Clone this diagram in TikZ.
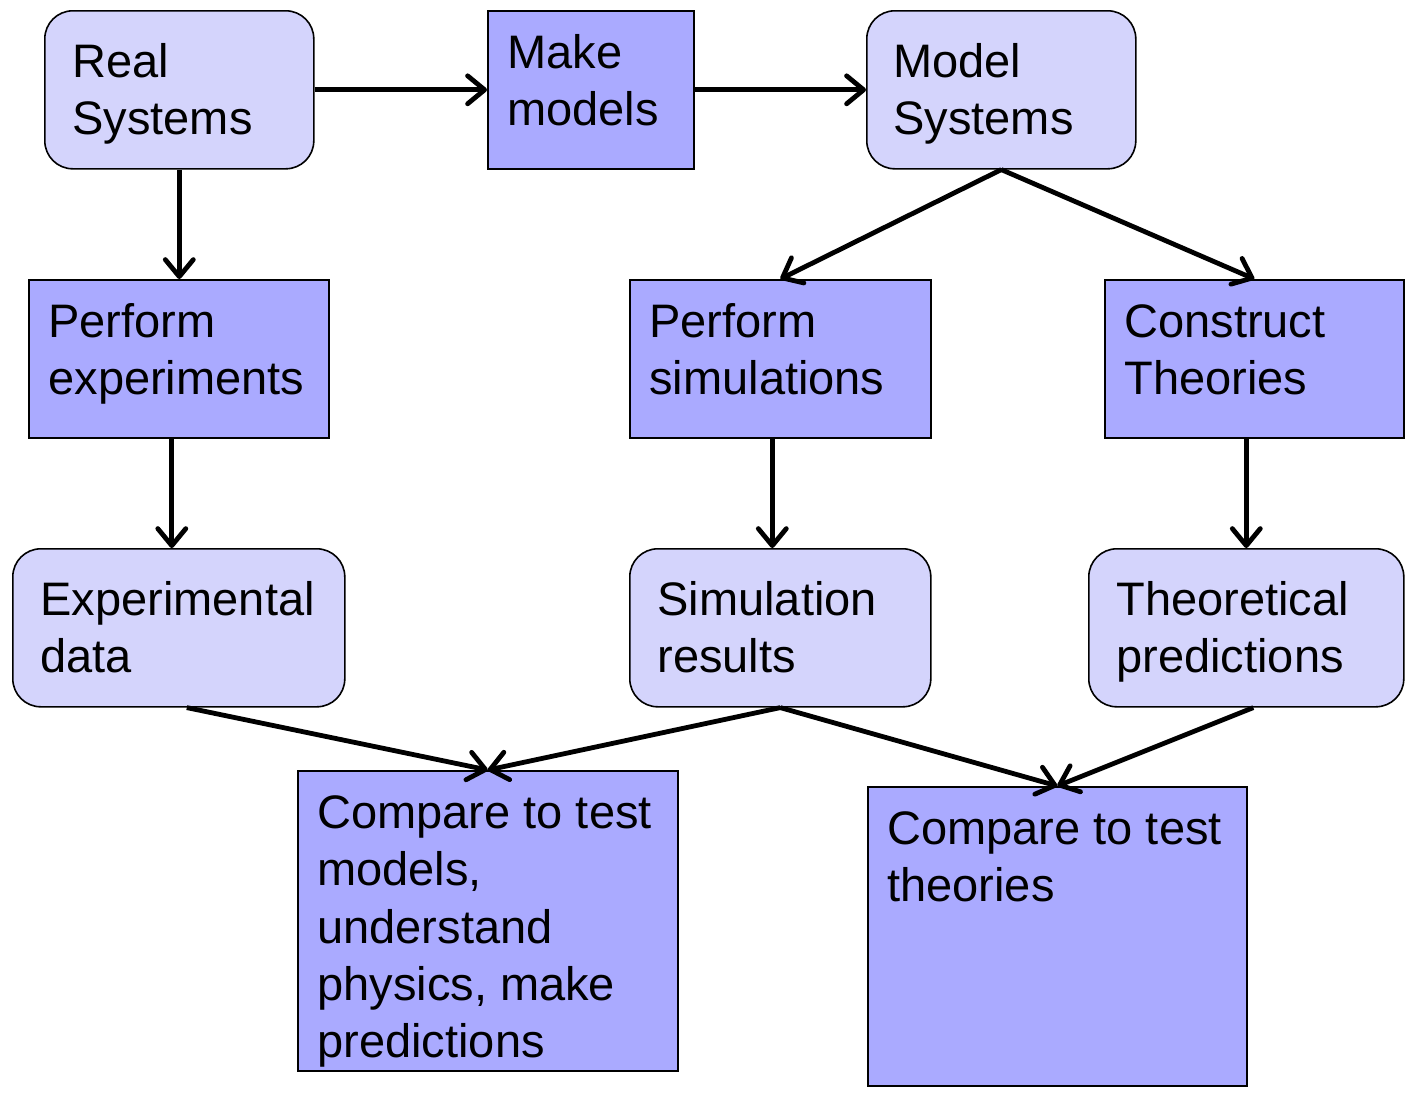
\documentclass[tikz,border=0pt]{standalone}
\usepackage{fontspec}
\setmainfont{Liberation Sans}
\usetikzlibrary{arrows.meta,calc}
\definecolor{lightbox}{RGB}{212,212,252}
\definecolor{darkbox}{RGB}{170,170,255}
\begin{document}
\begin{tikzpicture}[x=0.5pt,y=-0.5pt,
 box/.style={draw=black,line width=0.8pt,anchor=north west,inner sep=0pt},
 rbox/.style={box,fill=lightbox,rounded corners=14pt},
 sbox/.style={box,fill=darkbox},
 txt/.style={anchor=north west,inner sep=0pt,align=left,font=\fontsize{23.5pt}{28.7pt}\selectfont},
 arr/.style={line width=2.4pt,-{Straight Barb[length=8.5pt,width=14pt,line cap=round,line join=round]}}]
\path[use as bounding box] (0,0) rectangle (1405,1094);
% boxes
\node[rbox,minimum width=134.5pt,minimum height=79pt] (real) at (44,10) {};
\node[txt] (realT) at (72,36.8) {\strut Real\\Systems};
\node[sbox,minimum width=103pt,minimum height=79pt] (make) at (487,10) {};
\node[txt] (makeT) at (507,27.8) {\strut Make\\models};
\node[rbox,minimum width=134.5pt,minimum height=79pt] (model) at (866,10) {};
\node[txt] (modelT) at (893,36.8) {\strut Model\\Systems};
\node[sbox,minimum width=150pt,minimum height=79pt] (perfexp) at (28,279) {};
\node[txt] (perfexpT) at (48,296.8) {\strut Perform\\experiments};
\node[sbox,minimum width=150.5pt,minimum height=79pt] (perfsim) at (629,279) {};
\node[txt] (perfsimT) at (649,296.8) {\strut Perform\\simulations};
\node[sbox,minimum width=149.5pt,minimum height=79pt] (constr) at (1104,279) {};
\node[txt] (constrT) at (1124,296.8) {\strut Construct\\Theories};
\node[rbox,minimum width=166pt,minimum height=79pt] (expdata) at (12,548) {};
\node[txt] (expdataT) at (40,574.8) {\strut Experimental\\data};
\node[rbox,minimum width=150.5pt,minimum height=79pt] (simres) at (629,548) {};
\node[txt] (simresT) at (657,574.8) {\strut Simulation\\results};
\node[rbox,minimum width=157.5pt,minimum height=79pt] (theo) at (1088,548) {};
\node[txt] (theoT) at (1116,574.8) {\strut Theoretical\\predictions};
\node[sbox,minimum width=190pt,minimum height=150pt] (compL) at (297,770) {};
\node[txt] (compLT) at (317,787.8) {\strut Compare to test\\models,\\understand\\physics, make\\predictions};
\node[sbox,minimum width=189.5pt,minimum height=149.5pt] (compR) at (867,786) {};
\node[txt] (compRT) at (887,803.8) {\strut Compare to test\\theories};
% arrows
\draw[arr] (real.east) -- (make.west);
\draw[arr] (make.east) -- (model.west);
\draw[arr] (real.south) -- (real.south |- perfexp.north);
\draw[arr] (model.south) -- (perfsim.north);
\draw[arr] (model.south) -- (constr.north);
\draw[arr] ([xshift=-3.5pt]perfexp.south) -- ([xshift=-3.5pt]expdata.north);
\draw[arr] ([xshift=-4pt]perfsim.south) -- ([xshift=-4pt]perfsim.south |- simres.north);
\draw[arr] ([xshift=-4pt]constr.south) -- (theo.north);
\draw[arr] ([xshift=4pt]expdata.south) -- (compL.north);
\draw[arr] (simres.south) -- (compL.north);
\draw[arr] (simres.south) -- (compR.north);
\draw[arr] ([xshift=3.5pt]theo.south) -- (compR.north);
\end{tikzpicture}
\end{document}
